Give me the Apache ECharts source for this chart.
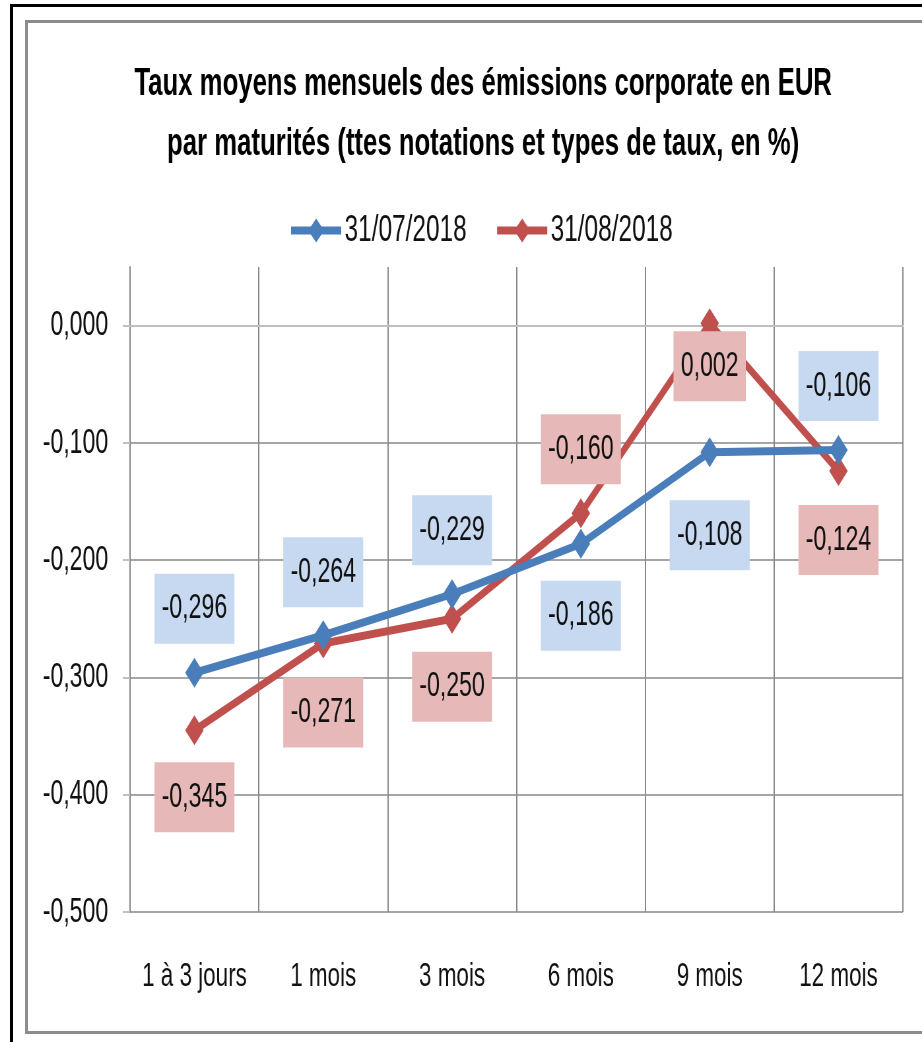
<!DOCTYPE html>
<html>
<head>
<meta charset="utf-8">
<script src="https://cdn.jsdelivr.net/npm/echarts@6/dist/echarts.min.js"></script>
<style>
  html, body { margin: 0; padding: 0; background: #fff; overflow: hidden; width: 922px; height: 1042px; }
  #frameOuter { position: absolute; left: 10px; top: 4px; width: 1000px; height: 1100px;
    border-left: 3px solid #000; border-top: 3px solid #000; }
  #frameInner { position: absolute; left: 25px; top: 20px; width: 1000px; height: 1008px;
    border: 3px solid #8c8c8c; }
  /* le graphique d'origine est comprimé horizontalement */
  #mChart { position: absolute; left: 0; top: 0; width: 1397px; height: 1042px;
    transform: scaleX(0.66); transform-origin: 0 0; }
</style>
</head>
<body>
<div id="frameOuter"></div>
<div id="frameInner"></div>
<div id="mChart"></div>
<script>
  // catégories et valeurs
  const categories = ['1 à 3 jours', '1 mois', '3 mois', '6 mois', '9 mois', '12 mois'];
  const julyValues = [-0.296, -0.264, -0.229, -0.186, -0.108, -0.106];
  const augustValues = [-0.345, -0.271, -0.250, -0.160, 0.002, -0.124];
  const seriesNames = ['31/07/2018', '31/08/2018'];
  const yTicks = [-0.5, -0.4, -0.3, -0.2, -0.1, 0];

  // décalage vertical des étiquettes (px)
  const julyLabelDy = [-64, -63, -64, 72, 83, -64];
  const augustLabelDy = [67, 69, 68, -64, 43, 69];

  const font = "'Liberation Sans', Arial, sans-serif";

  function fmt(v) {
    if (Math.abs(v) < 1e-9) v = 0;
    return v.toFixed(3).replace('.', ',');
  }

  function buildData(values, dys, bg) {
    return values.map(function (v, i) {
      return {
        value: v,
        label: {
          show: true,
          position: 'inside',
          offset: [0, dys[i]],
          formatter: fmt(v),
          backgroundColor: bg,
          color: '#111',
          fontFamily: font,
          fontSize: 35,
          lineHeight: 36,
          padding: [17, 11, 17, 11]
        }
      };
    });
  }

  let myChart = echarts.init(document.getElementById('mChart'));
  myChart.setOption({
    animation: false,
    title: {
      text: 'Taux moyens mensuels des émissions corporate en EUR\npar maturités (ttes notations et types de taux, en %)',
      left: 727,
      top: 49,
      textAlign: 'center',
      textStyle: {
        fontFamily: font,
        fontWeight: 'bold',
        fontSize: 39,
        lineHeight: 60,
        color: '#000'
      }
    },
    legend: {
      data: seriesNames,
      left: 432,
      top: 207,
      itemWidth: 76,
      itemHeight: 30,
      itemGap: 42,
      lineStyle: { width: 8 },
      textStyle: { fontFamily: font, fontSize: 37, color: '#111' }
    },
    grid: { left: 197, right: 29, top: 267, bottom: 130 },
    xAxis: {
      type: 'category',
      data: categories,
      boundaryGap: true,
      axisLine: { lineStyle: { color: '#bfbfbf', width: 2 } },
      axisTick: { show: false },
      axisLabel: { fontFamily: font, fontSize: 34, color: '#111', margin: 48, interval: 0 },
      splitLine: { show: true, lineStyle: { color: '#888888', width: 2 } }
    },
    yAxis: {
      type: 'value',
      min: -0.5,
      max: 0.05,
      interval: 0.1,
      axisLine: { show: true, lineStyle: { color: '#888888', width: 2 } },
      axisTick: { show: true, length: 11, customValues: yTicks, lineStyle: { color: '#bfbfbf', width: 2 } },
      axisLabel: {
        fontFamily: font, fontSize: 35, color: '#111', margin: 33,
        customValues: yTicks,
        formatter: function (v) { return v > 0.01 ? '' : fmt(v); }
      },
      splitLine: {
        lineStyle: {
          color: ['#888888', '#888888', '#888888', '#888888', '#888888', '#888888', 'rgba(0,0,0,0)'],
          width: 1.5
        }
      }
    },
    series: [
      {
        name: seriesNames[0],
        type: 'line',
        data: buildData(julyValues, julyLabelDy, '#c6d9f1'),
        symbol: 'diamond',
        symbolSize: [28, 30],
        color: '#4a7ebb',
        lineStyle: { width: 8, color: '#4a7ebb' },
        z: 3
      },
      {
        name: seriesNames[1],
        type: 'line',
        data: buildData(augustValues, augustLabelDy, '#e6b9b8'),
        symbol: 'diamond',
        symbolSize: [28, 30],
        color: '#c0504d',
        lineStyle: { width: 8, color: '#c0504d' },
        z: 2
      }
    ]
  });
</script>
</body>
</html>
